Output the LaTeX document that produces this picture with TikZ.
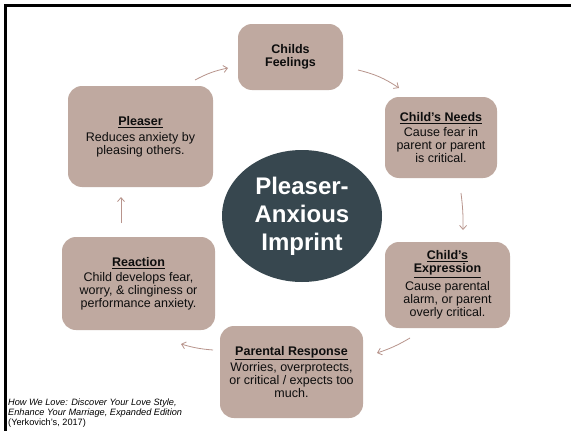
\documentclass[tikz,border=0pt]{standalone}
\usepackage{fontspec}
\setmainfont{Liberation Sans}
\usetikzlibrary{arrows.meta,shapes.geometric}
\definecolor{boxfill}{HTML}{BFA9A0}
\definecolor{hubfill}{HTML}{37474F}
\definecolor{arrowcol}{HTML}{B8948C}
\tikzset{
  stagebox/.style={draw=none, fill=boxfill, rounded corners=14pt, align=center,
    inner sep=0pt, text=black!95,
    font=\fontsize{12.5}{13}\selectfont},
  hub/.style={ellipse, fill=hubfill, draw=none, text=white, align=center,
    inner sep=0pt, font=\fontsize{24}{28}\selectfont\bfseries},
  cyclearrow/.style={draw=arrowcol, line width=0.8pt,
    -{Straight Barb[length=4pt,width=7pt]}},
  frameline/.style={draw=black, line width=2.7pt}
}
\newcommand{\stagetitle}[1]{\textbf{\underline{#1}}}
\begin{document}
\begin{tikzpicture}[x=1pt,y=-1pt]
  \useasboundingbox[fill=white] (0,0) rectangle (571,431);
  % frame edges
  \draw[frameline] (5.3,431) -- (5.3,5.3) -- (571,5.3);

  % central hub
  \node[hub, minimum width=160pt, minimum height=132pt] (hubnode) at (302,216)
    {Pleaser-\\Anxious\\Imprint};

  % stages of the cycle
  \node[stagebox, minimum width=105pt, minimum height=66pt] (feel) at (290.5,57)
    {\textbf{Childs}\\\textbf{Feelings}};
  \node[stagebox, minimum width=112pt, minimum height=81pt] (needs) at (441,137.5)
    {\stagetitle{Child’s Needs}\\[2pt]Cause fear in\\parent or parent\\is critical.};
  \node[stagebox, minimum width=125pt, minimum height=86pt] (expr) at (447.5,285)
    {\stagetitle{Child’s}\\\stagetitle{Expression}\\[3pt]Cause parental\\alarm, or parent\\overly critical.};
  \node[stagebox, minimum width=143pt, minimum height=92pt] (resp) at (291.5,372)
    {\stagetitle{Parental Response}\\[2pt]Worries, overprotects,\\or critical / expects too\\much.};
  \node[stagebox, minimum width=153pt, minimum height=93pt] (react) at (138.5,283.5)
    {\stagetitle{Reaction}\\[2pt]Child develops fear,\\worry, \& clinginess or\\performance anxiety.};
  \node[stagebox, minimum width=145pt, minimum height=101pt] (pleaser) at (140.5,136.5)
    {\stagetitle{Pleaser}\\[3pt]Reduces anxiety by\\pleasing others.};

  % connector end points in the gaps between stages
  \coordinate (a1s) at (195,80);  \coordinate (a1e) at (228,68);
  \coordinate (a2s) at (358,70);  \coordinate (a2e) at (399,88);
  \coordinate (a3s) at (461,193); \coordinate (a3e) at (463,230);
  \coordinate (a4s) at (410,338); \coordinate (a4e) at (377,353);
  \coordinate (a5s) at (213,350); \coordinate (a5e) at (181,344);
  \coordinate (a6s) at (121,223); \coordinate (a6e) at (121,197);

  \draw[cyclearrow] (a1s) to[bend left=8] (a1e);
  \draw[cyclearrow] (a2s) to[bend left=10] (a2e);
  \draw[cyclearrow] (a3s) to[bend left=4] (a3e);
  \draw[cyclearrow] (a4s) to[bend left=6] (a4e);
  \draw[cyclearrow] (a5s) to[bend left=6] (a5e);
  \draw[cyclearrow] (a6s) -- (a6e);

  % source note
  \node[anchor=north west, align=left, inner sep=0pt,
        font=\fontsize{9.2}{10}\selectfont] (source) at (8,398.5)
    {\textit{How We Love: Discover Your Love Style,}\\
     \textit{Enhance Your Marriage, Expanded Edition}\\
     (Yerkovich’s, 2017)};
\end{tikzpicture}
\end{document}
